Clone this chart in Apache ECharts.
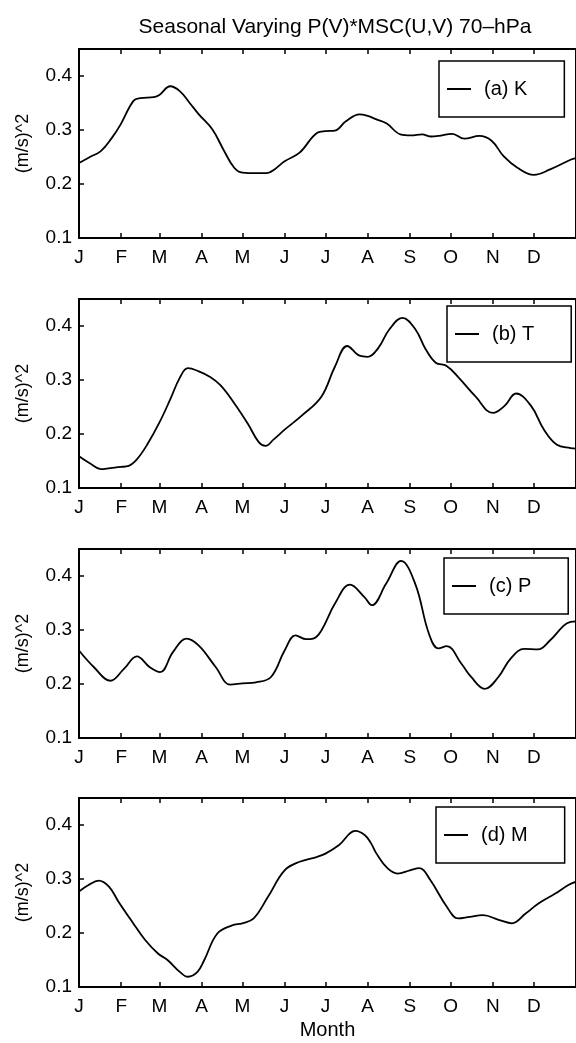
<!DOCTYPE html>
<html>
<head>
<meta charset="utf-8">
<script src="https://cdn.jsdelivr.net/npm/echarts@6/dist/echarts.min.js"></script>
<style>
html, body { margin: 0; padding: 0; background: #fff; }
#main { width: 576px; height: 1043px; }
</style>
</head>
<body>
<div id="main"></div>
<script>
// x axis is day of year, ticks at the first day of each month
var monthStarts = [0, 31, 59, 90, 120, 151, 181, 212, 243, 273, 304, 334];
var monthLetters = ['J', 'F', 'M', 'A', 'M', 'J', 'J', 'A', 'S', 'O', 'N', 'D'];
var yTicks = [0.1, 0.2, 0.3, 0.4];

// (a) K
var kDays = [0, 8, 16, 24, 30.5, 40, 45, 55, 59, 67, 74, 81, 88, 98, 106, 114, 120, 130, 138, 144, 151, 162, 175, 181, 188, 196, 206, 212, 218, 226, 236, 244, 252, 258, 264, 274, 283, 294, 303, 312, 322, 334, 346, 361, 365];
var kVals = [0.239, 0.250, 0.261, 0.285, 0.310, 0.354, 0.359, 0.361, 0.365, 0.381, 0.372, 0.351, 0.329, 0.301, 0.264, 0.230, 0.221, 0.220, 0.220, 0.228, 0.242, 0.258, 0.295, 0.298, 0.299, 0.316, 0.329, 0.326, 0.320, 0.312, 0.292, 0.290, 0.292, 0.288, 0.289, 0.293, 0.284, 0.289, 0.280, 0.251, 0.230, 0.217, 0.227, 0.245, 0.248];

// (b) T
var tDays = [0, 8.5, 16, 23, 30.5, 36.5, 42.5, 50, 59, 67, 74, 80, 88, 96, 104, 114, 124, 132, 137, 143, 151, 164, 178, 188, 197, 206, 212, 220, 228, 237.5, 247, 254.6, 262, 270, 279, 291, 304, 312.5, 321, 332, 341.5, 351, 361, 365];
var tVals = [0.159, 0.145, 0.135, 0.137, 0.139, 0.141, 0.153, 0.180, 0.221, 0.264, 0.304, 0.322, 0.316, 0.306, 0.290, 0.257, 0.219, 0.185, 0.178, 0.190, 0.208, 0.235, 0.269, 0.325, 0.363, 0.345, 0.343, 0.360, 0.394, 0.415, 0.394, 0.357, 0.332, 0.326, 0.304, 0.270, 0.239, 0.252, 0.275, 0.252, 0.208, 0.180, 0.174, 0.173];

// (c) P
var pDays = [0, 11, 23, 33, 42.5, 52, 59.6, 69, 79, 88, 100.5, 111, 120, 130, 141, 151, 159, 167, 172, 178, 188, 199, 209.6, 215, 225.6, 236.5, 247, 257, 264, 270, 281, 288, 298, 308, 317, 327, 337, 346, 356, 361, 365];
var pVals = [0.262, 0.231, 0.206, 0.228, 0.251, 0.231, 0.222, 0.259, 0.284, 0.271, 0.231, 0.199, 0.201, 0.203, 0.213, 0.262, 0.290, 0.283, 0.284, 0.299, 0.349, 0.384, 0.361, 0.346, 0.386, 0.428, 0.385, 0.293, 0.266, 0.270, 0.237, 0.213, 0.191, 0.213, 0.247, 0.265, 0.264, 0.281, 0.308, 0.315, 0.316];

// (d) M
var mDays = [0, 7, 14.5, 22, 29, 39, 48.6, 58, 65, 74, 80, 87, 92, 101.6, 112.4, 120, 128.3, 138.8, 151, 162, 175, 181, 191, 203, 210, 214.5, 218.5, 226.5, 234, 243, 250, 258, 270, 278.5, 287, 296.6, 308.7, 318, 328, 337.7, 349.8, 359.4, 365];
var mVals = [0.277, 0.289, 0.297, 0.286, 0.258, 0.221, 0.187, 0.162, 0.150, 0.128, 0.119, 0.128, 0.150, 0.199, 0.214, 0.218, 0.227, 0.267, 0.316, 0.332, 0.341, 0.347, 0.363, 0.389, 0.381, 0.366, 0.347, 0.320, 0.310, 0.316, 0.320, 0.298, 0.249, 0.227, 0.230, 0.233, 0.224, 0.218, 0.236, 0.255, 0.273, 0.289, 0.295];

var font = "'Liberation Sans', Arial, sans-serif";

var panels = [
  { name: '(a) K', days: kDays, vals: kVals, top: 49,  legendLeft: 439, legendTop: 61 },
  { name: '(b) T', days: tDays, vals: tVals, top: 299, legendLeft: 447, legendTop: 306 },
  { name: '(c) P', days: pDays, vals: pVals, top: 549, legendLeft: 444, legendTop: 558 },
  { name: '(d) M', days: mDays, vals: mVals, top: 798, legendLeft: 436, legendTop: 807 }
];

function zip(xs, ys) {
  var out = [];
  for (var i = 0; i < xs.length; i++) out.push([xs[i], ys[i]]);
  return out;
}

var grids = [], xAxes = [], yAxes = [], series = [], legends = [];

panels.forEach(function (p, i) {
  grids.push({
    left: 79, right: -7, top: p.top, height: 189,
    show: true, borderColor: '#000', borderWidth: 2, backgroundColor: '#fff'
  });
  // bottom axis with month letters
  xAxes.push({
    type: 'value', gridIndex: i, min: 0, max: 365, position: 'bottom',
    axisLine: { show: true, onZero: false, lineStyle: { color: '#000', width: 2 } },
    axisTick: { show: true, inside: true, length: 5, customValues: monthStarts, lineStyle: { color: '#000', width: 1.5 } },
    axisLabel: {
      show: true, customValues: monthStarts, margin: 10, color: '#000', fontSize: 19, fontFamily: font,
      formatter: function (v) { return monthLetters[monthStarts.indexOf(v)]; }
    },
    splitLine: { show: false },
    name: i === 3 ? 'Month' : '', nameLocation: 'middle', nameGap: 33,
    nameTextStyle: { color: '#000', fontSize: 20, fontFamily: font }
  });
  // top axis, ticks only
  xAxes.push({
    type: 'value', gridIndex: i, min: 0, max: 365, position: 'top',
    axisLine: { show: true, onZero: false, lineStyle: { color: '#000', width: 2 } },
    axisTick: { show: true, inside: true, length: 5, customValues: monthStarts, lineStyle: { color: '#000', width: 1.5 } },
    axisLabel: { show: false },
    splitLine: { show: false }
  });
  yAxes.push({
    type: 'value', gridIndex: i, min: 0.1, max: 0.45, interval: 0.1,
    axisLine: { show: true, onZero: false, lineStyle: { color: '#000', width: 2 } },
    axisTick: { show: true, inside: true, length: 5, customValues: yTicks, lineStyle: { color: '#000', width: 1.5 } },
    axisLabel: {
      customValues: yTicks, margin: 7, color: '#000', fontSize: 19, fontFamily: font,
      formatter: function (v) { return v.toFixed(1); }
    },
    splitLine: { show: false },
    name: '(m/s)^2', nameLocation: 'middle', nameGap: 47,
    nameTextStyle: { color: '#000', fontSize: 18, fontFamily: font }
  });
  series.push({
    name: p.name, type: 'line', xAxisIndex: 2 * i, yAxisIndex: i,
    data: zip(p.days, p.vals), smooth: 0.4, symbol: 'none',
    lineStyle: { color: '#000', width: 1.8 }, itemStyle: { color: '#000' }
  });
  legends.push({
    data: [p.name], left: p.legendLeft, top: p.legendTop,
    borderColor: '#000', borderWidth: 1.5, backgroundColor: '#fff',
    padding: [18, 37, 18, 7], itemWidth: 24, itemHeight: 14,
    selectedMode: false,
    itemStyle: { opacity: 0 },
    textStyle: { color: '#000', fontSize: 20, fontFamily: font, padding: [0, 0, 0, 8] }
  });
});

var chart = echarts.init(document.getElementById('main'));
chart.setOption({
  animation: false,
  backgroundColor: '#fff',
  title: {
    text: 'Seasonal Varying P(V)*MSC(U,V) 70\u2013hPa',
    left: 330, top: 12, textAlign: 'center',
    textStyle: { color: '#000', fontSize: 21, fontWeight: 'normal', fontFamily: font }
  },
  legend: legends,
  grid: grids,
  xAxis: xAxes,
  yAxis: yAxes,
  series: series
});
</script>
</body>
</html>
